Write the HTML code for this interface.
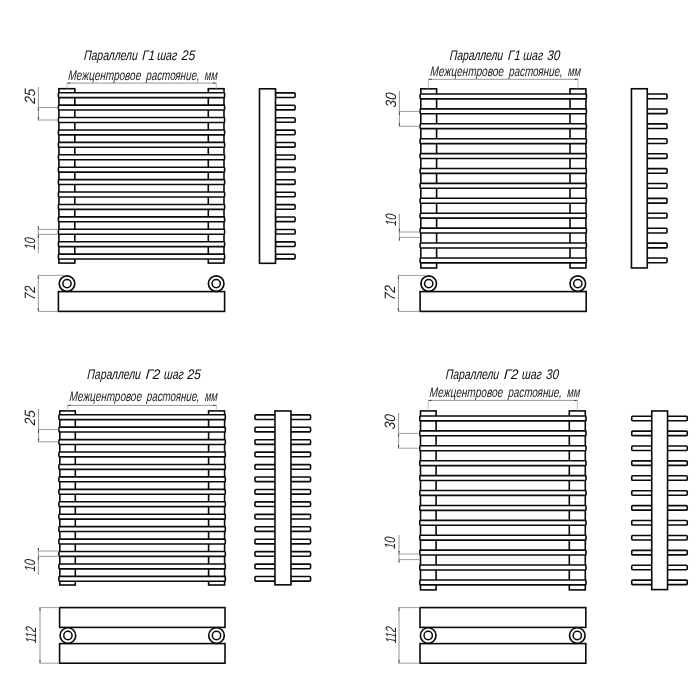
<!DOCTYPE html>
<html lang="ru"><head><meta charset="utf-8"><title>Параллели</title>
<style>
html,body{margin:0;padding:0;background:#fff;}
body{width:700px;height:700px;overflow:hidden;}
svg{display:block;will-change:transform;opacity:0.999;}
text{font-family:"Liberation Sans",sans-serif;font-style:italic;}
</style></head><body>
<svg width="700" height="700" viewBox="0 0 700 700">
<rect x="0" y="0" width="700" height="700" fill="#fff"/>
<g>
<text transform="translate(83.70,59.80) skewX(-4)" font-size="14" fill="#0a0a0a" textLength="53.80" lengthAdjust="spacingAndGlyphs">Параллели</text>
<text transform="translate(142.00,59.80) skewX(-4)" font-size="14" fill="#0a0a0a" textLength="12.50" lengthAdjust="spacingAndGlyphs">Г1</text>
<text transform="translate(157.00,59.80) skewX(-4)" font-size="14" fill="#0a0a0a" textLength="20.00" lengthAdjust="spacingAndGlyphs">шаг</text>
<text transform="translate(181.50,59.80) skewX(-4)" font-size="14" fill="#0a0a0a" textLength="13.50" lengthAdjust="spacingAndGlyphs">25</text>
<text transform="translate(68.00,79.90) skewX(-4)" font-size="14" fill="#222" textLength="73.00" lengthAdjust="spacingAndGlyphs">Межцентровое</text>
<text transform="translate(146.00,79.90) skewX(-4)" font-size="14" fill="#222" textLength="53.40" lengthAdjust="spacingAndGlyphs">растояние,</text>
<text transform="translate(204.60,79.90) skewX(-4)" font-size="14" fill="#222" textLength="12.80" lengthAdjust="spacingAndGlyphs">мм</text>
<text transform="translate(34.67,104.10) rotate(-90) skewX(-4)" font-size="15" fill="#222" textLength="15.00" lengthAdjust="spacingAndGlyphs">25</text>
<text transform="translate(34.57,249.70) rotate(-90) skewX(-4)" font-size="15" fill="#222" textLength="12.00" lengthAdjust="spacingAndGlyphs">10</text>
<text transform="translate(34.67,299.90) rotate(-90) skewX(-4)" font-size="15" fill="#222" textLength="14.00" lengthAdjust="spacingAndGlyphs">72</text>
<text transform="translate(449.40,59.80) skewX(-4)" font-size="14" fill="#0a0a0a" textLength="53.50" lengthAdjust="spacingAndGlyphs">Параллели</text>
<text transform="translate(507.70,59.80) skewX(-4)" font-size="14" fill="#0a0a0a" textLength="12.50" lengthAdjust="spacingAndGlyphs">Г1</text>
<text transform="translate(523.10,59.80) skewX(-4)" font-size="14" fill="#0a0a0a" textLength="19.80" lengthAdjust="spacingAndGlyphs">шаг</text>
<text transform="translate(547.10,59.80) skewX(-4)" font-size="14" fill="#0a0a0a" textLength="12.90" lengthAdjust="spacingAndGlyphs">30</text>
<text transform="translate(430.10,76.00) skewX(-4)" font-size="14" fill="#222" textLength="73.59" lengthAdjust="spacingAndGlyphs">Межцентровое</text>
<text transform="translate(508.73,76.00) skewX(-4)" font-size="14" fill="#222" textLength="53.83" lengthAdjust="spacingAndGlyphs">растояние,</text>
<text transform="translate(567.80,76.00) skewX(-4)" font-size="14" fill="#222" textLength="12.90" lengthAdjust="spacingAndGlyphs">мм</text>
<text transform="translate(395.77,107.70) rotate(-90) skewX(-4)" font-size="15" fill="#222" textLength="14.80" lengthAdjust="spacingAndGlyphs">30</text>
<text transform="translate(395.97,226.00) rotate(-90) skewX(-4)" font-size="15" fill="#222" textLength="12.00" lengthAdjust="spacingAndGlyphs">10</text>
<text transform="translate(394.97,300.50) rotate(-90) skewX(-4)" font-size="15" fill="#222" textLength="15.00" lengthAdjust="spacingAndGlyphs">72</text>
<text transform="translate(87.10,379.40) skewX(-4)" font-size="14" fill="#0a0a0a" textLength="53.50" lengthAdjust="spacingAndGlyphs">Параллели</text>
<text transform="translate(145.40,379.40) skewX(-4)" font-size="14" fill="#0a0a0a" textLength="14.60" lengthAdjust="spacingAndGlyphs">Г2</text>
<text transform="translate(163.70,379.40) skewX(-4)" font-size="14" fill="#0a0a0a" textLength="19.70" lengthAdjust="spacingAndGlyphs">шаг</text>
<text transform="translate(186.90,379.40) skewX(-4)" font-size="14" fill="#0a0a0a" textLength="13.70" lengthAdjust="spacingAndGlyphs">25</text>
<text transform="translate(69.30,401.40) skewX(-4)" font-size="14" fill="#222" textLength="72.37" lengthAdjust="spacingAndGlyphs">Межцентровое</text>
<text transform="translate(146.62,401.40) skewX(-4)" font-size="14" fill="#222" textLength="52.94" lengthAdjust="spacingAndGlyphs">растояние,</text>
<text transform="translate(204.71,401.40) skewX(-4)" font-size="14" fill="#222" textLength="12.69" lengthAdjust="spacingAndGlyphs">мм</text>
<text transform="translate(35.37,425.50) rotate(-90) skewX(-4)" font-size="15" fill="#222" textLength="15.00" lengthAdjust="spacingAndGlyphs">25</text>
<text transform="translate(35.17,571.60) rotate(-90) skewX(-4)" font-size="15" fill="#222" textLength="12.00" lengthAdjust="spacingAndGlyphs">10</text>
<text transform="translate(36.37,643.25) rotate(-90) skewX(-4)" font-size="15" fill="#222" textLength="16.50" lengthAdjust="spacingAndGlyphs">112</text>
<text transform="translate(445.40,379.40) skewX(-4)" font-size="14" fill="#0a0a0a" textLength="53.50" lengthAdjust="spacingAndGlyphs">Параллели</text>
<text transform="translate(503.70,379.40) skewX(-4)" font-size="14" fill="#0a0a0a" textLength="14.30" lengthAdjust="spacingAndGlyphs">Г2</text>
<text transform="translate(521.70,379.40) skewX(-4)" font-size="14" fill="#0a0a0a" textLength="19.70" lengthAdjust="spacingAndGlyphs">шаг</text>
<text transform="translate(545.70,379.40) skewX(-4)" font-size="14" fill="#0a0a0a" textLength="12.90" lengthAdjust="spacingAndGlyphs">30</text>
<text transform="translate(429.30,397.40) skewX(-4)" font-size="14" fill="#222" textLength="73.63" lengthAdjust="spacingAndGlyphs">Межцентровое</text>
<text transform="translate(507.98,397.40) skewX(-4)" font-size="14" fill="#222" textLength="53.86" lengthAdjust="spacingAndGlyphs">растояние,</text>
<text transform="translate(567.09,397.40) skewX(-4)" font-size="14" fill="#222" textLength="12.91" lengthAdjust="spacingAndGlyphs">мм</text>
<text transform="translate(395.37,429.50) rotate(-90) skewX(-4)" font-size="15" fill="#222" textLength="15.00" lengthAdjust="spacingAndGlyphs">30</text>
<text transform="translate(395.37,549.00) rotate(-90) skewX(-4)" font-size="15" fill="#222" textLength="12.00" lengthAdjust="spacingAndGlyphs">10</text>
<text transform="translate(395.77,643.25) rotate(-90) skewX(-4)" font-size="15" fill="#222" textLength="16.50" lengthAdjust="spacingAndGlyphs">112</text>
<rect x="58.90" y="88.70" width="15.90" height="174.40" fill="#fff" stroke="#0a0a0a" stroke-width="1.6"/>
<rect x="208.30" y="88.70" width="15.70" height="174.40" fill="#fff" stroke="#0a0a0a" stroke-width="1.6"/>
<rect x="58.40" y="92.70" width="166.20" height="4.90" rx="0.9" ry="0.9" fill="#fff" stroke="#0a0a0a" stroke-width="1.6"/>
<rect x="58.40" y="105.12" width="166.20" height="4.90" rx="0.9" ry="0.9" fill="#fff" stroke="#0a0a0a" stroke-width="1.6"/>
<rect x="58.40" y="117.54" width="166.20" height="4.90" rx="0.9" ry="0.9" fill="#fff" stroke="#0a0a0a" stroke-width="1.6"/>
<rect x="58.40" y="129.96" width="166.20" height="4.90" rx="0.9" ry="0.9" fill="#fff" stroke="#0a0a0a" stroke-width="1.6"/>
<rect x="58.40" y="142.38" width="166.20" height="4.90" rx="0.9" ry="0.9" fill="#fff" stroke="#0a0a0a" stroke-width="1.6"/>
<rect x="58.40" y="154.80" width="166.20" height="4.90" rx="0.9" ry="0.9" fill="#fff" stroke="#0a0a0a" stroke-width="1.6"/>
<rect x="58.40" y="167.22" width="166.20" height="4.90" rx="0.9" ry="0.9" fill="#fff" stroke="#0a0a0a" stroke-width="1.6"/>
<rect x="58.40" y="179.63" width="166.20" height="4.90" rx="0.9" ry="0.9" fill="#fff" stroke="#0a0a0a" stroke-width="1.6"/>
<rect x="58.40" y="192.05" width="166.20" height="4.90" rx="0.9" ry="0.9" fill="#fff" stroke="#0a0a0a" stroke-width="1.6"/>
<rect x="58.40" y="204.47" width="166.20" height="4.90" rx="0.9" ry="0.9" fill="#fff" stroke="#0a0a0a" stroke-width="1.6"/>
<rect x="58.40" y="216.89" width="166.20" height="4.90" rx="0.9" ry="0.9" fill="#fff" stroke="#0a0a0a" stroke-width="1.6"/>
<rect x="58.40" y="229.31" width="166.20" height="4.90" rx="0.9" ry="0.9" fill="#fff" stroke="#0a0a0a" stroke-width="1.6"/>
<rect x="58.40" y="241.73" width="166.20" height="4.90" rx="0.9" ry="0.9" fill="#fff" stroke="#0a0a0a" stroke-width="1.6"/>
<rect x="58.40" y="254.15" width="166.20" height="4.90" rx="0.9" ry="0.9" fill="#fff" stroke="#0a0a0a" stroke-width="1.6"/>
<line x1="67.10" y1="83.10" x2="216.30" y2="83.10" stroke="#5c5c5c" stroke-width="0.65"/>
<line x1="67.10" y1="82.30" x2="67.10" y2="88.70" stroke="#a0a0a0" stroke-width="0.65"/>
<line x1="216.30" y1="82.30" x2="216.30" y2="88.70" stroke="#a0a0a0" stroke-width="0.65"/>
<path d="M67.10 83.10L70.10 83.72L70.10 82.48Z" fill="#222"/>
<path d="M216.30 83.10L213.30 82.48L213.30 83.72Z" fill="#222"/>
<line x1="38.40" y1="86.90" x2="38.40" y2="120.30" stroke="#5c5c5c" stroke-width="0.65"/>
<line x1="37.70" y1="107.50" x2="58.40" y2="107.50" stroke="#858585" stroke-width="0.8"/>
<line x1="37.70" y1="120.00" x2="58.40" y2="120.00" stroke="#858585" stroke-width="0.8"/>
<path d="M38.40 107.50L37.78 110.50L39.02 110.50Z" fill="#222"/>
<path d="M38.40 120.00L39.02 117.00L37.78 117.00Z" fill="#222"/>
<line x1="38.30" y1="226.60" x2="38.30" y2="253.50" stroke="#5c5c5c" stroke-width="0.65"/>
<line x1="37.60" y1="229.40" x2="58.40" y2="229.40" stroke="#858585" stroke-width="0.8"/>
<line x1="37.60" y1="234.40" x2="58.40" y2="234.40" stroke="#858585" stroke-width="0.8"/>
<path d="M38.30 229.40L38.92 226.40L37.68 226.40Z" fill="#222"/>
<path d="M38.30 234.40L37.68 237.40L38.92 237.40Z" fill="#222"/>
<rect x="275.50" y="92.85" width="19.60" height="4.60" rx="0.9" ry="0.9" fill="#fff" stroke="#0a0a0a" stroke-width="1.6"/>
<rect x="275.50" y="105.27" width="19.60" height="4.60" rx="0.9" ry="0.9" fill="#fff" stroke="#0a0a0a" stroke-width="1.6"/>
<rect x="275.50" y="117.69" width="19.60" height="4.60" rx="0.9" ry="0.9" fill="#fff" stroke="#0a0a0a" stroke-width="1.6"/>
<rect x="275.50" y="130.11" width="19.60" height="4.60" rx="0.9" ry="0.9" fill="#fff" stroke="#0a0a0a" stroke-width="1.6"/>
<rect x="275.50" y="142.53" width="19.60" height="4.60" rx="0.9" ry="0.9" fill="#fff" stroke="#0a0a0a" stroke-width="1.6"/>
<rect x="275.50" y="154.95" width="19.60" height="4.60" rx="0.9" ry="0.9" fill="#fff" stroke="#0a0a0a" stroke-width="1.6"/>
<rect x="275.50" y="167.37" width="19.60" height="4.60" rx="0.9" ry="0.9" fill="#fff" stroke="#0a0a0a" stroke-width="1.6"/>
<rect x="275.50" y="179.78" width="19.60" height="4.60" rx="0.9" ry="0.9" fill="#fff" stroke="#0a0a0a" stroke-width="1.6"/>
<rect x="275.50" y="192.20" width="19.60" height="4.60" rx="0.9" ry="0.9" fill="#fff" stroke="#0a0a0a" stroke-width="1.6"/>
<rect x="275.50" y="204.62" width="19.60" height="4.60" rx="0.9" ry="0.9" fill="#fff" stroke="#0a0a0a" stroke-width="1.6"/>
<rect x="275.50" y="217.04" width="19.60" height="4.60" rx="0.9" ry="0.9" fill="#fff" stroke="#0a0a0a" stroke-width="1.6"/>
<rect x="275.50" y="229.46" width="19.60" height="4.60" rx="0.9" ry="0.9" fill="#fff" stroke="#0a0a0a" stroke-width="1.6"/>
<rect x="275.50" y="241.88" width="19.60" height="4.60" rx="0.9" ry="0.9" fill="#fff" stroke="#0a0a0a" stroke-width="1.6"/>
<rect x="275.50" y="254.30" width="19.60" height="4.60" rx="0.9" ry="0.9" fill="#fff" stroke="#0a0a0a" stroke-width="1.6"/>
<rect x="259.50" y="88.80" width="16.00" height="174.50" fill="#fff" stroke="#0a0a0a" stroke-width="1.6"/>
<rect x="58.40" y="291.60" width="166.20" height="19.80" fill="#fff" stroke="#0a0a0a" stroke-width="1.6"/>
<circle cx="67.00" cy="283.60" r="7.8" fill="#fff" stroke="#0a0a0a" stroke-width="1.65"/>
<circle cx="67.00" cy="283.60" r="4.15" fill="#fff" stroke="#0a0a0a" stroke-width="1.5"/>
<circle cx="216.20" cy="283.60" r="7.8" fill="#fff" stroke="#0a0a0a" stroke-width="1.65"/>
<circle cx="216.20" cy="283.60" r="4.15" fill="#fff" stroke="#0a0a0a" stroke-width="1.5"/>
<line x1="38.30" y1="275.40" x2="38.30" y2="311.40" stroke="#5c5c5c" stroke-width="0.65"/>
<line x1="37.60" y1="275.40" x2="63.50" y2="275.40" stroke="#858585" stroke-width="0.8"/>
<line x1="37.60" y1="311.40" x2="58.40" y2="311.40" stroke="#858585" stroke-width="0.8"/>
<path d="M38.30 275.40L37.68 278.40L38.92 278.40Z" fill="#222"/>
<path d="M38.30 311.40L38.92 308.40L37.68 308.40Z" fill="#222"/>
<rect x="420.80" y="88.85" width="15.80" height="179.15" fill="#fff" stroke="#0a0a0a" stroke-width="1.6"/>
<rect x="570.00" y="88.85" width="15.90" height="179.15" fill="#fff" stroke="#0a0a0a" stroke-width="1.6"/>
<rect x="420.10" y="93.95" width="166.30" height="4.90" rx="0.9" ry="0.9" fill="#fff" stroke="#0a0a0a" stroke-width="1.6"/>
<rect x="420.10" y="108.86" width="166.30" height="4.90" rx="0.9" ry="0.9" fill="#fff" stroke="#0a0a0a" stroke-width="1.6"/>
<rect x="420.10" y="123.77" width="166.30" height="4.90" rx="0.9" ry="0.9" fill="#fff" stroke="#0a0a0a" stroke-width="1.6"/>
<rect x="420.10" y="138.68" width="166.30" height="4.90" rx="0.9" ry="0.9" fill="#fff" stroke="#0a0a0a" stroke-width="1.6"/>
<rect x="420.10" y="153.59" width="166.30" height="4.90" rx="0.9" ry="0.9" fill="#fff" stroke="#0a0a0a" stroke-width="1.6"/>
<rect x="420.10" y="168.50" width="166.30" height="4.90" rx="0.9" ry="0.9" fill="#fff" stroke="#0a0a0a" stroke-width="1.6"/>
<rect x="420.10" y="183.40" width="166.30" height="4.90" rx="0.9" ry="0.9" fill="#fff" stroke="#0a0a0a" stroke-width="1.6"/>
<rect x="420.10" y="198.31" width="166.30" height="4.90" rx="0.9" ry="0.9" fill="#fff" stroke="#0a0a0a" stroke-width="1.6"/>
<rect x="420.10" y="213.22" width="166.30" height="4.90" rx="0.9" ry="0.9" fill="#fff" stroke="#0a0a0a" stroke-width="1.6"/>
<rect x="420.10" y="228.13" width="166.30" height="4.90" rx="0.9" ry="0.9" fill="#fff" stroke="#0a0a0a" stroke-width="1.6"/>
<rect x="420.10" y="243.04" width="166.30" height="4.90" rx="0.9" ry="0.9" fill="#fff" stroke="#0a0a0a" stroke-width="1.6"/>
<rect x="420.10" y="257.95" width="166.30" height="4.90" rx="0.9" ry="0.9" fill="#fff" stroke="#0a0a0a" stroke-width="1.6"/>
<line x1="428.40" y1="79.30" x2="578.00" y2="79.30" stroke="#5c5c5c" stroke-width="0.65"/>
<line x1="428.40" y1="78.50" x2="428.40" y2="88.85" stroke="#a0a0a0" stroke-width="0.65"/>
<line x1="578.00" y1="78.50" x2="578.00" y2="88.85" stroke="#a0a0a0" stroke-width="0.65"/>
<path d="M428.40 79.30L431.40 79.92L431.40 78.68Z" fill="#222"/>
<path d="M578.00 79.30L575.00 78.68L575.00 79.92Z" fill="#222"/>
<line x1="399.40" y1="91.00" x2="399.40" y2="126.30" stroke="#5c5c5c" stroke-width="0.65"/>
<line x1="398.70" y1="111.40" x2="420.10" y2="111.40" stroke="#858585" stroke-width="0.8"/>
<line x1="398.70" y1="126.30" x2="420.10" y2="126.30" stroke="#858585" stroke-width="0.8"/>
<path d="M399.40 111.40L398.78 114.40L400.02 114.40Z" fill="#222"/>
<path d="M399.40 126.30L400.02 123.30L398.78 123.30Z" fill="#222"/>
<line x1="399.40" y1="213.60" x2="399.40" y2="239.40" stroke="#5c5c5c" stroke-width="0.65"/>
<line x1="398.70" y1="232.00" x2="420.10" y2="232.00" stroke="#858585" stroke-width="0.8"/>
<line x1="398.70" y1="237.40" x2="420.10" y2="237.40" stroke="#858585" stroke-width="0.8"/>
<path d="M399.40 232.00L400.02 229.00L398.78 229.00Z" fill="#222"/>
<path d="M399.40 237.40L398.78 240.40L400.02 240.40Z" fill="#222"/>
<rect x="647.25" y="94.05" width="19.80" height="4.70" rx="0.9" ry="0.9" fill="#fff" stroke="#0a0a0a" stroke-width="1.6"/>
<rect x="647.25" y="108.96" width="19.80" height="4.70" rx="0.9" ry="0.9" fill="#fff" stroke="#0a0a0a" stroke-width="1.6"/>
<rect x="647.25" y="123.87" width="19.80" height="4.70" rx="0.9" ry="0.9" fill="#fff" stroke="#0a0a0a" stroke-width="1.6"/>
<rect x="647.25" y="138.78" width="19.80" height="4.70" rx="0.9" ry="0.9" fill="#fff" stroke="#0a0a0a" stroke-width="1.6"/>
<rect x="647.25" y="153.69" width="19.80" height="4.70" rx="0.9" ry="0.9" fill="#fff" stroke="#0a0a0a" stroke-width="1.6"/>
<rect x="647.25" y="168.60" width="19.80" height="4.70" rx="0.9" ry="0.9" fill="#fff" stroke="#0a0a0a" stroke-width="1.6"/>
<rect x="647.25" y="183.50" width="19.80" height="4.70" rx="0.9" ry="0.9" fill="#fff" stroke="#0a0a0a" stroke-width="1.6"/>
<rect x="647.25" y="198.41" width="19.80" height="4.70" rx="0.9" ry="0.9" fill="#fff" stroke="#0a0a0a" stroke-width="1.6"/>
<rect x="647.25" y="213.32" width="19.80" height="4.70" rx="0.9" ry="0.9" fill="#fff" stroke="#0a0a0a" stroke-width="1.6"/>
<rect x="647.25" y="228.23" width="19.80" height="4.70" rx="0.9" ry="0.9" fill="#fff" stroke="#0a0a0a" stroke-width="1.6"/>
<rect x="647.25" y="243.14" width="19.80" height="4.70" rx="0.9" ry="0.9" fill="#fff" stroke="#0a0a0a" stroke-width="1.6"/>
<rect x="647.25" y="258.05" width="19.80" height="4.70" rx="0.9" ry="0.9" fill="#fff" stroke="#0a0a0a" stroke-width="1.6"/>
<rect x="631.45" y="88.75" width="15.80" height="179.20" fill="#fff" stroke="#0a0a0a" stroke-width="1.6"/>
<rect x="420.10" y="291.60" width="166.10" height="19.80" fill="#fff" stroke="#0a0a0a" stroke-width="1.6"/>
<circle cx="428.70" cy="283.60" r="7.8" fill="#fff" stroke="#0a0a0a" stroke-width="1.65"/>
<circle cx="428.70" cy="283.60" r="4.15" fill="#fff" stroke="#0a0a0a" stroke-width="1.5"/>
<circle cx="577.80" cy="283.60" r="7.8" fill="#fff" stroke="#0a0a0a" stroke-width="1.65"/>
<circle cx="577.80" cy="283.60" r="4.15" fill="#fff" stroke="#0a0a0a" stroke-width="1.5"/>
<line x1="398.40" y1="275.40" x2="398.40" y2="311.40" stroke="#5c5c5c" stroke-width="0.65"/>
<line x1="397.70" y1="275.40" x2="425.00" y2="275.40" stroke="#858585" stroke-width="0.8"/>
<line x1="397.70" y1="311.40" x2="420.10" y2="311.40" stroke="#858585" stroke-width="0.8"/>
<path d="M398.40 275.40L397.78 278.40L399.02 278.40Z" fill="#222"/>
<path d="M398.40 311.40L399.02 308.40L397.78 308.40Z" fill="#222"/>
<rect x="59.80" y="410.90" width="15.50" height="174.10" fill="#fff" stroke="#0a0a0a" stroke-width="1.6"/>
<rect x="208.60" y="410.90" width="16.00" height="174.10" fill="#fff" stroke="#0a0a0a" stroke-width="1.6"/>
<rect x="58.90" y="414.70" width="166.40" height="4.90" rx="0.9" ry="0.9" fill="#fff" stroke="#0a0a0a" stroke-width="1.6"/>
<rect x="58.90" y="427.14" width="166.40" height="4.90" rx="0.9" ry="0.9" fill="#fff" stroke="#0a0a0a" stroke-width="1.6"/>
<rect x="58.90" y="439.58" width="166.40" height="4.90" rx="0.9" ry="0.9" fill="#fff" stroke="#0a0a0a" stroke-width="1.6"/>
<rect x="58.90" y="452.02" width="166.40" height="4.90" rx="0.9" ry="0.9" fill="#fff" stroke="#0a0a0a" stroke-width="1.6"/>
<rect x="58.90" y="464.45" width="166.40" height="4.90" rx="0.9" ry="0.9" fill="#fff" stroke="#0a0a0a" stroke-width="1.6"/>
<rect x="58.90" y="476.89" width="166.40" height="4.90" rx="0.9" ry="0.9" fill="#fff" stroke="#0a0a0a" stroke-width="1.6"/>
<rect x="58.90" y="489.33" width="166.40" height="4.90" rx="0.9" ry="0.9" fill="#fff" stroke="#0a0a0a" stroke-width="1.6"/>
<rect x="58.90" y="501.77" width="166.40" height="4.90" rx="0.9" ry="0.9" fill="#fff" stroke="#0a0a0a" stroke-width="1.6"/>
<rect x="58.90" y="514.21" width="166.40" height="4.90" rx="0.9" ry="0.9" fill="#fff" stroke="#0a0a0a" stroke-width="1.6"/>
<rect x="58.90" y="526.65" width="166.40" height="4.90" rx="0.9" ry="0.9" fill="#fff" stroke="#0a0a0a" stroke-width="1.6"/>
<rect x="58.90" y="539.08" width="166.40" height="4.90" rx="0.9" ry="0.9" fill="#fff" stroke="#0a0a0a" stroke-width="1.6"/>
<rect x="58.90" y="551.52" width="166.40" height="4.90" rx="0.9" ry="0.9" fill="#fff" stroke="#0a0a0a" stroke-width="1.6"/>
<rect x="58.90" y="563.96" width="166.40" height="4.90" rx="0.9" ry="0.9" fill="#fff" stroke="#0a0a0a" stroke-width="1.6"/>
<rect x="58.90" y="576.40" width="166.40" height="4.90" rx="0.9" ry="0.9" fill="#fff" stroke="#0a0a0a" stroke-width="1.6"/>
<line x1="67.40" y1="405.40" x2="216.40" y2="405.40" stroke="#5c5c5c" stroke-width="0.65"/>
<line x1="67.40" y1="404.60" x2="67.40" y2="410.90" stroke="#a0a0a0" stroke-width="0.65"/>
<line x1="216.40" y1="404.60" x2="216.40" y2="410.90" stroke="#a0a0a0" stroke-width="0.65"/>
<path d="M67.40 405.40L70.40 406.02L70.40 404.78Z" fill="#222"/>
<path d="M216.40 405.40L213.40 404.78L213.40 406.02Z" fill="#222"/>
<line x1="38.60" y1="409.00" x2="38.60" y2="441.80" stroke="#5c5c5c" stroke-width="0.65"/>
<line x1="37.90" y1="429.50" x2="58.90" y2="429.50" stroke="#858585" stroke-width="0.8"/>
<line x1="37.90" y1="441.80" x2="58.90" y2="441.80" stroke="#858585" stroke-width="0.8"/>
<path d="M38.60 429.50L37.98 432.50L39.22 432.50Z" fill="#222"/>
<path d="M38.60 441.80L39.22 438.80L37.98 438.80Z" fill="#222"/>
<line x1="38.40" y1="548.00" x2="38.40" y2="575.00" stroke="#5c5c5c" stroke-width="0.65"/>
<line x1="37.70" y1="551.00" x2="58.90" y2="551.00" stroke="#858585" stroke-width="0.8"/>
<line x1="37.70" y1="556.40" x2="58.90" y2="556.40" stroke="#858585" stroke-width="0.8"/>
<path d="M38.40 551.00L39.02 548.00L37.78 548.00Z" fill="#222"/>
<path d="M38.40 556.40L37.78 559.40L39.02 559.40Z" fill="#222"/>
<rect x="254.95" y="414.85" width="55.60" height="4.60" rx="0.9" ry="0.9" fill="#fff" stroke="#0a0a0a" stroke-width="1.6"/>
<rect x="254.95" y="427.29" width="55.60" height="4.60" rx="0.9" ry="0.9" fill="#fff" stroke="#0a0a0a" stroke-width="1.6"/>
<rect x="254.95" y="439.73" width="55.60" height="4.60" rx="0.9" ry="0.9" fill="#fff" stroke="#0a0a0a" stroke-width="1.6"/>
<rect x="254.95" y="452.17" width="55.60" height="4.60" rx="0.9" ry="0.9" fill="#fff" stroke="#0a0a0a" stroke-width="1.6"/>
<rect x="254.95" y="464.60" width="55.60" height="4.60" rx="0.9" ry="0.9" fill="#fff" stroke="#0a0a0a" stroke-width="1.6"/>
<rect x="254.95" y="477.04" width="55.60" height="4.60" rx="0.9" ry="0.9" fill="#fff" stroke="#0a0a0a" stroke-width="1.6"/>
<rect x="254.95" y="489.48" width="55.60" height="4.60" rx="0.9" ry="0.9" fill="#fff" stroke="#0a0a0a" stroke-width="1.6"/>
<rect x="254.95" y="501.92" width="55.60" height="4.60" rx="0.9" ry="0.9" fill="#fff" stroke="#0a0a0a" stroke-width="1.6"/>
<rect x="254.95" y="514.36" width="55.60" height="4.60" rx="0.9" ry="0.9" fill="#fff" stroke="#0a0a0a" stroke-width="1.6"/>
<rect x="254.95" y="526.80" width="55.60" height="4.60" rx="0.9" ry="0.9" fill="#fff" stroke="#0a0a0a" stroke-width="1.6"/>
<rect x="254.95" y="539.23" width="55.60" height="4.60" rx="0.9" ry="0.9" fill="#fff" stroke="#0a0a0a" stroke-width="1.6"/>
<rect x="254.95" y="551.67" width="55.60" height="4.60" rx="0.9" ry="0.9" fill="#fff" stroke="#0a0a0a" stroke-width="1.6"/>
<rect x="254.95" y="564.11" width="55.60" height="4.60" rx="0.9" ry="0.9" fill="#fff" stroke="#0a0a0a" stroke-width="1.6"/>
<rect x="254.95" y="576.55" width="55.60" height="4.60" rx="0.9" ry="0.9" fill="#fff" stroke="#0a0a0a" stroke-width="1.6"/>
<rect x="274.95" y="410.95" width="16.00" height="173.90" fill="#fff" stroke="#0a0a0a" stroke-width="1.6"/>
<rect x="59.60" y="607.60" width="165.40" height="19.80" fill="#fff" stroke="#0a0a0a" stroke-width="1.6"/>
<rect x="59.60" y="643.60" width="165.40" height="19.60" fill="#fff" stroke="#0a0a0a" stroke-width="1.6"/>
<circle cx="67.90" cy="635.50" r="7.8" fill="#fff" stroke="#0a0a0a" stroke-width="1.65"/>
<circle cx="67.90" cy="635.50" r="4.15" fill="#fff" stroke="#0a0a0a" stroke-width="1.5"/>
<circle cx="216.50" cy="635.50" r="7.8" fill="#fff" stroke="#0a0a0a" stroke-width="1.65"/>
<circle cx="216.50" cy="635.50" r="4.15" fill="#fff" stroke="#0a0a0a" stroke-width="1.5"/>
<line x1="40.00" y1="607.60" x2="40.00" y2="663.20" stroke="#5c5c5c" stroke-width="0.65"/>
<line x1="39.30" y1="607.60" x2="59.60" y2="607.60" stroke="#858585" stroke-width="0.8"/>
<line x1="39.30" y1="663.20" x2="59.60" y2="663.20" stroke="#858585" stroke-width="0.8"/>
<path d="M40.00 607.60L39.38 610.60L40.62 610.60Z" fill="#222"/>
<path d="M40.00 663.20L40.62 660.20L39.38 660.20Z" fill="#222"/>
<rect x="420.50" y="410.90" width="15.60" height="179.00" fill="#fff" stroke="#0a0a0a" stroke-width="1.6"/>
<rect x="569.30" y="410.90" width="16.00" height="179.00" fill="#fff" stroke="#0a0a0a" stroke-width="1.6"/>
<rect x="419.80" y="416.00" width="166.20" height="4.90" rx="0.9" ry="0.9" fill="#fff" stroke="#0a0a0a" stroke-width="1.6"/>
<rect x="419.80" y="430.90" width="166.20" height="4.90" rx="0.9" ry="0.9" fill="#fff" stroke="#0a0a0a" stroke-width="1.6"/>
<rect x="419.80" y="445.81" width="166.20" height="4.90" rx="0.9" ry="0.9" fill="#fff" stroke="#0a0a0a" stroke-width="1.6"/>
<rect x="419.80" y="460.71" width="166.20" height="4.90" rx="0.9" ry="0.9" fill="#fff" stroke="#0a0a0a" stroke-width="1.6"/>
<rect x="419.80" y="475.62" width="166.20" height="4.90" rx="0.9" ry="0.9" fill="#fff" stroke="#0a0a0a" stroke-width="1.6"/>
<rect x="419.80" y="490.52" width="166.20" height="4.90" rx="0.9" ry="0.9" fill="#fff" stroke="#0a0a0a" stroke-width="1.6"/>
<rect x="419.80" y="505.43" width="166.20" height="4.90" rx="0.9" ry="0.9" fill="#fff" stroke="#0a0a0a" stroke-width="1.6"/>
<rect x="419.80" y="520.33" width="166.20" height="4.90" rx="0.9" ry="0.9" fill="#fff" stroke="#0a0a0a" stroke-width="1.6"/>
<rect x="419.80" y="535.24" width="166.20" height="4.90" rx="0.9" ry="0.9" fill="#fff" stroke="#0a0a0a" stroke-width="1.6"/>
<rect x="419.80" y="550.14" width="166.20" height="4.90" rx="0.9" ry="0.9" fill="#fff" stroke="#0a0a0a" stroke-width="1.6"/>
<rect x="419.80" y="565.05" width="166.20" height="4.90" rx="0.9" ry="0.9" fill="#fff" stroke="#0a0a0a" stroke-width="1.6"/>
<rect x="419.80" y="579.95" width="166.20" height="4.90" rx="0.9" ry="0.9" fill="#fff" stroke="#0a0a0a" stroke-width="1.6"/>
<line x1="428.20" y1="400.40" x2="577.40" y2="400.40" stroke="#5c5c5c" stroke-width="0.65"/>
<line x1="428.20" y1="399.60" x2="428.20" y2="410.90" stroke="#a0a0a0" stroke-width="0.65"/>
<line x1="577.40" y1="399.60" x2="577.40" y2="410.90" stroke="#a0a0a0" stroke-width="0.65"/>
<path d="M428.20 400.40L431.20 401.02L431.20 399.78Z" fill="#222"/>
<path d="M577.40 400.40L574.40 399.78L574.40 401.02Z" fill="#222"/>
<line x1="398.60" y1="413.00" x2="398.60" y2="448.20" stroke="#5c5c5c" stroke-width="0.65"/>
<line x1="397.90" y1="433.40" x2="419.80" y2="433.40" stroke="#858585" stroke-width="0.8"/>
<line x1="397.90" y1="448.20" x2="419.80" y2="448.20" stroke="#858585" stroke-width="0.8"/>
<path d="M398.60 433.40L397.98 436.40L399.22 436.40Z" fill="#222"/>
<path d="M398.60 448.20L399.22 445.20L397.98 445.20Z" fill="#222"/>
<line x1="399.00" y1="535.00" x2="399.00" y2="561.60" stroke="#5c5c5c" stroke-width="0.65"/>
<line x1="398.30" y1="554.00" x2="419.80" y2="554.00" stroke="#858585" stroke-width="0.8"/>
<line x1="398.30" y1="559.60" x2="419.80" y2="559.60" stroke="#858585" stroke-width="0.8"/>
<path d="M399.00 554.00L399.62 551.00L398.38 551.00Z" fill="#222"/>
<path d="M399.00 559.60L398.38 562.60L399.62 562.60Z" fill="#222"/>
<rect x="631.75" y="416.20" width="55.50" height="4.50" rx="0.9" ry="0.9" fill="#fff" stroke="#0a0a0a" stroke-width="1.6"/>
<rect x="631.75" y="431.10" width="55.50" height="4.50" rx="0.9" ry="0.9" fill="#fff" stroke="#0a0a0a" stroke-width="1.6"/>
<rect x="631.75" y="446.01" width="55.50" height="4.50" rx="0.9" ry="0.9" fill="#fff" stroke="#0a0a0a" stroke-width="1.6"/>
<rect x="631.75" y="460.91" width="55.50" height="4.50" rx="0.9" ry="0.9" fill="#fff" stroke="#0a0a0a" stroke-width="1.6"/>
<rect x="631.75" y="475.82" width="55.50" height="4.50" rx="0.9" ry="0.9" fill="#fff" stroke="#0a0a0a" stroke-width="1.6"/>
<rect x="631.75" y="490.72" width="55.50" height="4.50" rx="0.9" ry="0.9" fill="#fff" stroke="#0a0a0a" stroke-width="1.6"/>
<rect x="631.75" y="505.63" width="55.50" height="4.50" rx="0.9" ry="0.9" fill="#fff" stroke="#0a0a0a" stroke-width="1.6"/>
<rect x="631.75" y="520.53" width="55.50" height="4.50" rx="0.9" ry="0.9" fill="#fff" stroke="#0a0a0a" stroke-width="1.6"/>
<rect x="631.75" y="535.44" width="55.50" height="4.50" rx="0.9" ry="0.9" fill="#fff" stroke="#0a0a0a" stroke-width="1.6"/>
<rect x="631.75" y="550.34" width="55.50" height="4.50" rx="0.9" ry="0.9" fill="#fff" stroke="#0a0a0a" stroke-width="1.6"/>
<rect x="631.75" y="565.25" width="55.50" height="4.50" rx="0.9" ry="0.9" fill="#fff" stroke="#0a0a0a" stroke-width="1.6"/>
<rect x="631.75" y="580.15" width="55.50" height="4.50" rx="0.9" ry="0.9" fill="#fff" stroke="#0a0a0a" stroke-width="1.6"/>
<rect x="651.75" y="410.95" width="15.80" height="178.65" fill="#fff" stroke="#0a0a0a" stroke-width="1.6"/>
<rect x="420.00" y="607.60" width="165.80" height="19.80" fill="#fff" stroke="#0a0a0a" stroke-width="1.6"/>
<rect x="420.00" y="643.60" width="165.80" height="19.60" fill="#fff" stroke="#0a0a0a" stroke-width="1.6"/>
<circle cx="428.20" cy="635.50" r="7.8" fill="#fff" stroke="#0a0a0a" stroke-width="1.65"/>
<circle cx="428.20" cy="635.50" r="4.15" fill="#fff" stroke="#0a0a0a" stroke-width="1.5"/>
<circle cx="577.30" cy="635.50" r="7.8" fill="#fff" stroke="#0a0a0a" stroke-width="1.65"/>
<circle cx="577.30" cy="635.50" r="4.15" fill="#fff" stroke="#0a0a0a" stroke-width="1.5"/>
<line x1="399.00" y1="607.60" x2="399.00" y2="663.20" stroke="#5c5c5c" stroke-width="0.65"/>
<line x1="398.30" y1="607.60" x2="420.00" y2="607.60" stroke="#858585" stroke-width="0.8"/>
<line x1="398.30" y1="663.20" x2="420.00" y2="663.20" stroke="#858585" stroke-width="0.8"/>
<path d="M399.00 607.60L398.38 610.60L399.62 610.60Z" fill="#222"/>
<path d="M399.00 663.20L399.62 660.20L398.38 660.20Z" fill="#222"/>
</g>
</svg>
</body></html>
